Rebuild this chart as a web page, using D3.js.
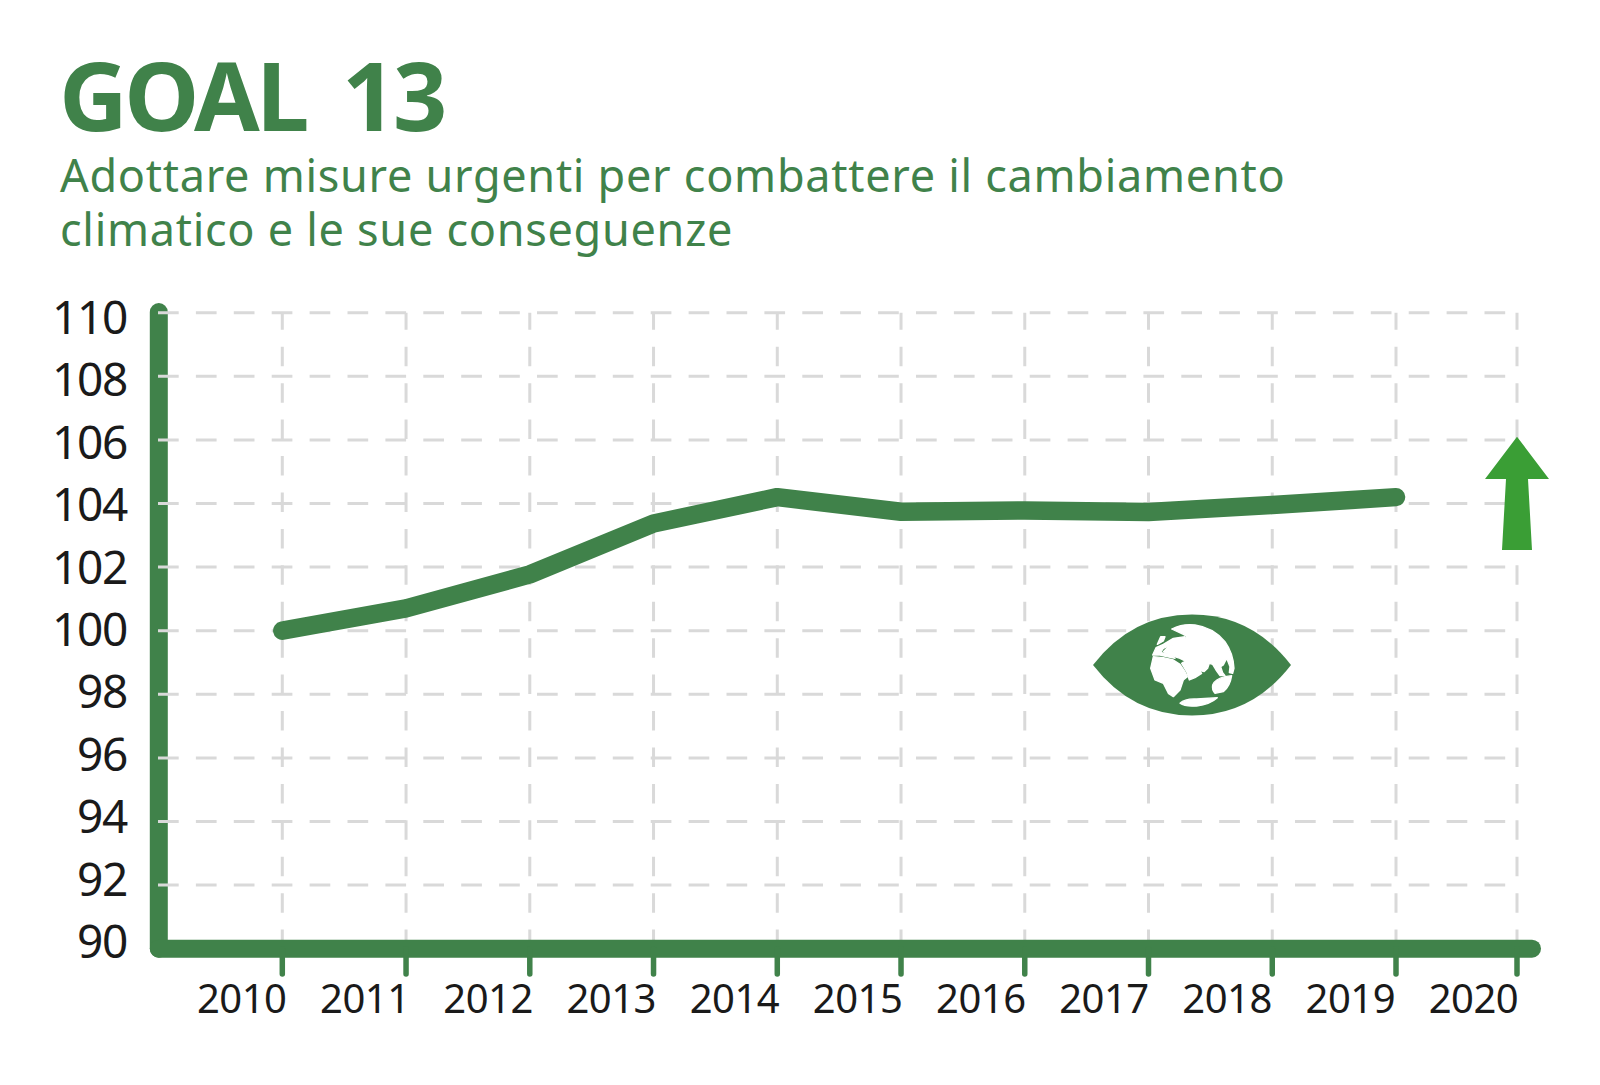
<!DOCTYPE html>
<html>
<head>
<meta charset="utf-8">
<title>Goal 13</title>
<script src="https://d3js.org/d3.v7.min.js"></script>
<style>
  html, body { margin: 0; background: #fff; }
  svg { display: block; }
  text { font-family: "Noto Sans", sans-serif; }
</style>
</head>
<body>
<div id="svgContainer"></div>
<script>
var years = [2010, 2011, 2012, 2013, 2014, 2015, 2016, 2017, 2018, 2019];
var values = [100, 100.7, 101.77, 103.37, 104.2, 103.74, 103.78, 103.73, 103.95, 104.2];
var xTicks = [2010, 2011, 2012, 2013, 2014, 2015, 2016, 2017, 2018, 2019, 2020];
var yTicks = [90, 92, 94, 96, 98, 100, 102, 104, 106, 108, 110];
var titleLines = ["Adottare misure urgenti per combattere il cambiamento", "climatico e le sue conseguenze"];

var green = "#40824a", arrowGreen = "#3a9e35", gridGrey = "#d9d9d9", inkBlack = "#1a1a1a";

var svg = d3.select("#svgContainer").append("svg")
    .attr("width", 1600).attr("height", 1085);

// 2020 sits a little closer to 2019 than the other years do
var x = d3.scaleLinear().domain([2010, 2019, 2020]).range([282.3, 1396, 1517]);
var y = d3.scaleLinear().domain([90, 110]).range([948.7, 312.7]);
// labels do not line up exactly with the ticks in the original
var xLabel = d3.scaleLinear().domain([2010, 2020]).range([241.7, 1473.5]);
var yLabel = d3.scaleLinear().domain([90, 110]).range([958, 334]);

svg.append("text").attr("x", 59).attr("y", 131)
    .attr("fill", green).attr("font-size", 95).attr("font-weight", 700)
    .attr("letter-spacing", -3.5).attr("word-spacing", 15)
    .text("GOAL 13");
svg.selectAll(".sub").data(titleLines).enter().append("text")
    .attr("class", "sub")
    .attr("x", 60).attr("y", (d, i) => 192 + i * 53.5)
    .attr("fill", green).attr("font-size", 45).attr("letter-spacing", 0.72)
    .text(d => d);

// y axis goes under the grid, the x axis over it
svg.append("line")
    .attr("x1", 158.8).attr("x2", 158.8).attr("y1", 312).attr("y2", 948.7)
    .attr("stroke", green).attr("stroke-width", 18).attr("stroke-linecap", "round");

svg.append("g").selectAll("line").data(yTicks.slice(1)).enter().append("line")
    .attr("x1", 158).attr("x2", x(2020))
    .attr("y1", d => y(d)).attr("y2", d => y(d))
    .attr("stroke", gridGrey).attr("stroke-width", 3).attr("stroke-dasharray", "20.7 17.2");
svg.append("g").selectAll("line").data(xTicks).enter().append("line")
    .attr("x1", d => x(d)).attr("x2", d => x(d))
    .attr("y1", y(110)).attr("y2", y(90))
    .attr("stroke", gridGrey).attr("stroke-width", 3)
    .attr("stroke-dasharray", "19.5 16.93").attr("stroke-dashoffset", 2.4);

svg.append("line")
    .attr("x1", 158.8).attr("x2", 1532).attr("y1", y(90)).attr("y2", y(90))
    .attr("stroke", green).attr("stroke-width", 18).attr("stroke-linecap", "round");
svg.append("g").selectAll("line").data(xTicks).enter().append("line")
    .attr("x1", d => x(d)).attr("x2", d => x(d))
    .attr("y1", y(90)).attr("y2", 974)
    .attr("stroke", green).attr("stroke-width", 5.5).attr("stroke-linecap", "round");

svg.append("g").selectAll("text").data(yTicks).enter().append("text")
    .attr("x", 127).attr("y", d => yLabel(d))
    .attr("text-anchor", "end").attr("font-size", 46).attr("letter-spacing", -1.3)
    .attr("fill", inkBlack)
    .text(d => d);
svg.append("g").selectAll("text").data(xTicks).enter().append("text")
    .attr("x", d => xLabel(d)).attr("y", 1013)
    .attr("text-anchor", "middle").attr("font-size", 40).attr("letter-spacing", -0.5)
    .attr("fill", inkBlack)
    .text(d => d);

// series
var line = d3.line().x((d, i) => x(years[i])).y(d => y(d));
svg.append("path").datum(values)
    .attr("d", line).attr("fill", "none")
    .attr("stroke", green).attr("stroke-width", 18.5)
    .attr("stroke-linecap", "round").attr("stroke-linejoin", "round");

// up arrow at 2020
svg.append("path")
    .attr("transform", "translate(" + x(2020) + ",0)")
    .attr("d", "M0,436.7 L32,479 L11,479 L15,550 L-15,550 L-11,479 L-32,479 Z")
    .attr("fill", arrowGreen);

// eye with globe
var eye = svg.append("g").attr("transform", "translate(1192,665)");
eye.append("path")
    .attr("d", "M-99,0 Q-60,-50.5 0,-50.5 Q60,-50.5 99,0 Q60,50.5 0,50.5 Q-60,50.5 -99,0 Z")
    .attr("fill", green);

var land = [
    "M125,72 Q160,55 195,60 Q250,68 285,110 Q310,145 312,190 L308,205 L298,203 L300,185 L290,160 L280,180 L272,185 L278,203 L285,212 L270,212 L258,195 L248,178 L238,175 L233,190 L222,200 L205,195 L215,205 L195,218 L178,225 L170,200 L155,175 L165,168 L150,160 L120,150 L100,140 L115,125 L150,110 L172,95 L160,88 Z",
    "M68,150 L78,128 L100,118 L130,100 L165,95 L160,108 L125,120 L100,130 L92,142 L120,150 L135,160 L110,155 L90,150 Z",
    "M82,118 L92,95 L105,95 L100,108 Z",
    "M70,155 L100,158 L130,165 L150,178 L165,200 L172,215 L160,225 L150,255 L130,275 L115,265 L100,235 L75,225 L62,190 Z",
    "M248,240 Q255,222 285,215 L305,212 Q300,245 280,260 L255,265 Q245,255 248,240 Z",
    "M150,295 Q165,280 200,282 L262,278 Q240,298 200,303 Q165,306 150,295 Z"
];
svg.append("g").attr("transform", "translate(1130,605) scale(0.3333)")
    .selectAll("path").data(land).enter().append("path")
    .attr("d", d => d).attr("fill", "#fff")
    .attr("stroke", "#fff").attr("stroke-width", 4).attr("stroke-linejoin", "round");
</script>
</body>
</html>
